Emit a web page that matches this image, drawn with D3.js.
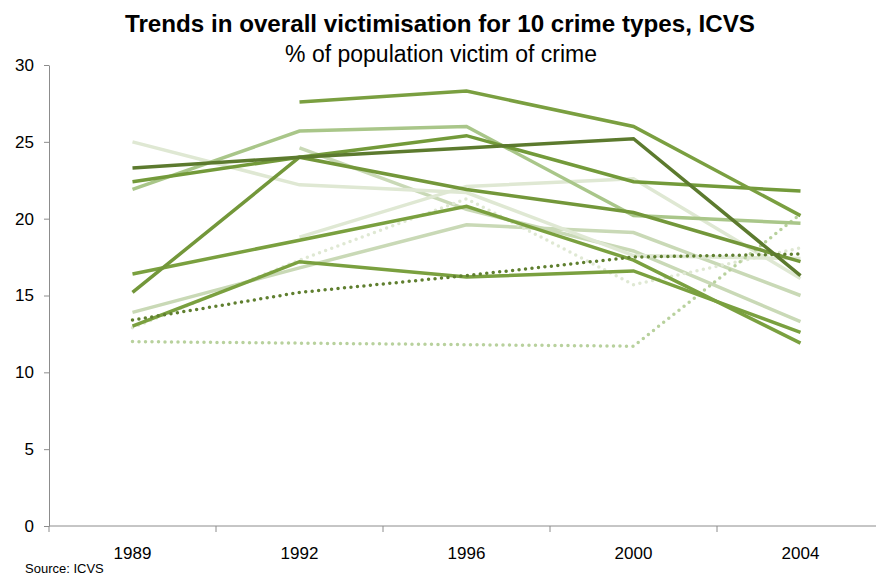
<!DOCTYPE html>
<html>
<head>
<meta charset="utf-8">
<script src="https://cdn.jsdelivr.net/npm/d3@7"></script>
<style>
  body { margin: 0; background: #fff; }
  svg { display: block; font-family: "Liberation Sans", Arial, sans-serif; }
  .axis path, .axis line { stroke: #8c8c8c; }
  .axis text { font-size: 17px; fill: #000; }
</style>
</head>
<body>
<svg width="876" height="576"></svg>
<script>
'use strict';

// survey years (categories)
var years = ['1989', '1992', '1996', '2000', '2004'];
var yTicks = [0, 5, 10, 15, 20, 25, 30];

// one array per line, null = no survey that year
var lineA = [null, 27.6, 28.3, 26.0, 20.2];
var lineB = [23.3, 24.0, 24.6, 25.2, 16.3];
var lineC = [21.9, 25.7, 26.0, 20.2, 19.7];
var lineD = [22.4, 24.0, 25.4, 22.4, 21.8];
var lineE = [15.2, 24.0, 21.9, 20.4, 17.2];
var lineF = [25.0, 22.2, 21.7, 17.6, 17.4];
var lineG = [null, 18.8, 22.1, 22.6, 16.1];
var lineH = [16.4, 18.6, 20.8, 17.3, 11.9];
var lineI = [13.0, 17.2, 16.2, 16.6, 12.6];
var lineJ = [13.9, 16.8, 19.6, 19.1, 15.0];
var lineK = [null, 24.6, 20.6, 17.9, 13.3];
var dotA = [13.4, 15.2, 16.3, 17.5, 17.7];
var dotB = [12.9, 17.3, 21.3, 15.7, 18.1];
var dotC = [12.0, 11.9, 11.8, 11.7, 20.3];

var series = [
    { values: lineK, color: '#c9d9b6', dash: null },
    { values: lineJ, color: '#c9d9b6', dash: null },
    { values: lineF, color: '#dfe8d3', dash: null },
    { values: lineG, color: '#dfe8d3', dash: null },
    { values: dotB, color: '#dfe8d3', dash: '0 6.5' },
    { values: dotC, color: '#b8d19d', dash: '0 6.5' },
    { values: lineC, color: '#a9c689', dash: null },
    { values: lineI, color: '#7aa03f', dash: null },
    { values: lineH, color: '#7aa03f', dash: null },
    { values: lineE, color: '#73973a', dash: null },
    { values: lineD, color: '#739a3a', dash: null },
    { values: lineA, color: '#7a9f40', dash: null },
    { values: lineB, color: '#5c7a2e', dash: null },
    { values: dotA, color: '#5f7f2f', dash: '0 6.5' }
];

var margin = { top: 65, right: -8, bottom: 50, left: 49 };
var width = 876 - margin.left - margin.right;
var height = 576 - margin.top - margin.bottom;

var svg = d3.select('svg');

var x = d3.scaleBand().domain(years).range([0, width]);
var y = d3.scaleLinear().domain([0, 30]).range([height, 0]);

var g = svg.append('g').attr('transform', 'translate(' + margin.left + ',' + margin.top + ')');

// y axis
var axisY = d3.axisLeft(y).tickValues(yTicks).tickSize(5).tickSizeOuter(0).tickPadding(10);
g.append('g').attr('class', 'axis axis-y').call(axisY);

// x axis, ticks between categories
var axisX = d3.axisBottom(x).tickSize(0).tickPadding(21);
var gx = g.append('g').attr('class', 'axis axis-x')
    .attr('transform', 'translate(0,' + height + ')').call(axisX);
gx.select('.domain').attr('d', 'M0,0H' + width);
gx.selectAll('.sep').data(d3.range(years.length + 1)).enter().append('line')
    .attr('class', 'sep')
    .attr('x1', function (i) { return i * x.step(); })
    .attr('x2', function (i) { return i * x.step(); })
    .attr('y1', 0).attr('y2', 6);

// lines
var line = d3.line()
    .defined(function (d) { return d != null; })
    .x(function (d, i) { return x(years[i]) + x.bandwidth() / 2; })
    .y(function (d) { return y(d); });

g.selectAll('.trend').data(series).enter().append('path')
    .attr('class', 'trend')
    .attr('fill', 'none')
    .attr('stroke', function (d) { return d.color; })
    .attr('stroke-width', 3.5)
    .attr('stroke-linecap', function (d) { return d.dash ? 'round' : 'butt'; })
    .attr('stroke-linejoin', 'miter')
    .attr('stroke-dasharray', function (d) { return d.dash; })
    .attr('d', function (d) { return line(d.values); });

// titles
svg.append('text').attr('x', 440).attr('y', 32).attr('text-anchor', 'middle')
    .style('font-size', '24px').style('font-weight', 'bold')
    .attr('textLength', 630).attr('lengthAdjust', 'spacingAndGlyphs')
    .text('Trends in overall victimisation for 10 crime types, ICVS');
svg.append('text').attr('x', 441).attr('y', 62).attr('text-anchor', 'middle')
    .style('font-size', '23px')
    .text('% of population victim of crime');
svg.append('text').attr('x', 25).attr('y', 573)
    .style('font-size', '13px')
    .text('Source: ICVS');
</script>
</body>
</html>
